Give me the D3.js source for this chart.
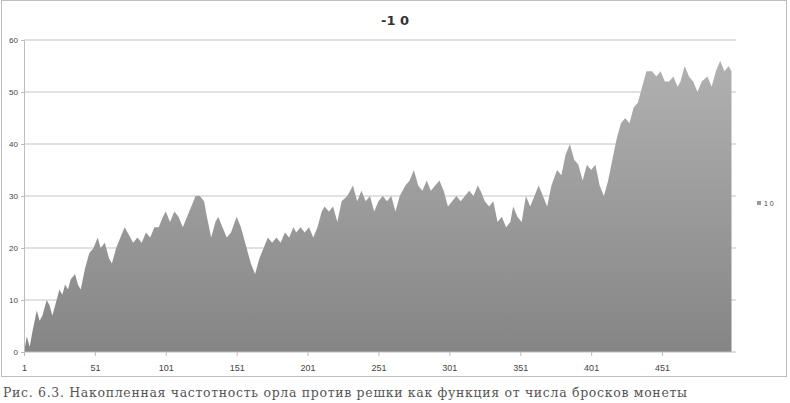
<!DOCTYPE html>
<html><head><meta charset="utf-8">
<script src="https://cdn.jsdelivr.net/npm/d3@7"></script>
<style>body{margin:0;background:#fff}</style>
</head><body>
<svg id="c" width="790" height="403"></svg>
<script>
// toss number and cumulative (heads - tails)
const tosses = [1,3,5,7,10,12,14,17,19,21,23,26,28,30,32,34,37,39,41,44,47,50,53,55,58,61,63,66,69,72,76,78,81,84,87,90,93,96,99,101,104,107,110,113,116,119,122,125,128,130,133,136,138,141,144,147,151,154,157,161,164,167,170,173,176,179,182,185,188,191,193,196,199,202,205,208,211,213,216,219,222,225,229,233,236,239,242,245,248,251,254,257,260,263,266,270,273,276,279,282,285,288,291,294,297,300,303,306,309,312,315,318,321,323,326,329,332,335,338,341,344,346,349,352,355,358,361,364,367,370,373,377,380,383,386,389,392,395,398,401,404,407,410,413,416,419,422,425,428,431,434,437,440,444,447,450,453,456,459,462,464,467,470,473,476,479,483,486,489,492,495,498,500];
const values = [0,3,1,4,8,6,7,10,9,7,9,12,11,13,12,14,15,13,12,16,19,20,22,20,21,18,17,20,22,24,22,21,22,21,23,22,24,24,26,27,25,27,26,24,26,28,30,30,29,26,22,25,26,24,22,23,26,24,21,17,15,18,20,22,21,22,21,23,22,24,23,24,23,24,22,24,27,28,27,28,25,29,30,32,29,31,29,30,27,29,30,29,30,27,30,32,33,35,32,31,33,31,32,33,31,28,29,30,29,30,31,30,32,31,29,28,29,25,26,24,25,28,26,25,30,28,30,32,30,28,32,35,34,38,40,37,36,33,36,35,36,32,30,33,37,41,44,45,44,47,48,51,54,54,53,54,52,52,53,51,52,55,53,52,50,52,53,51,54,56,54,55,54,55,52];
const yTicks = [0,10,20,30,40,50,60];
const xTicks = [1,51,101,151,201,251,301,351,401,451];

const svg = d3.select('#c');
const m = {left:24, right:736, top:40, bottom:352};
const x = d3.scaleLinear().domain([1,500]).range([m.left, 731.5]);
const y = d3.scaleLinear().domain([0,60]).range([m.bottom, m.top]);

svg.append('rect').attr('x',1.5).attr('y',0.5).attr('width',785).attr('height',376)
  .attr('fill','#fff').attr('stroke','#bdbdbd');

const grad = svg.append('defs').append('linearGradient').attr('id','g')
  .attr('x1',0).attr('y1',0).attr('x2',0).attr('y2',1)
  .attr('gradientUnits','userSpaceOnUse')
  .attr('x1',0).attr('y1',m.top).attr('x2',0).attr('y2',m.bottom);
grad.append('stop').attr('offset','0%').attr('stop-color','#b4b4b4');
grad.append('stop').attr('offset','100%').attr('stop-color','#858585');

svg.append('g').selectAll('line').data(yTicks.slice(1)).enter().append('line')
  .attr('x1',m.left).attr('x2',m.right).attr('y1',d=>y(d)).attr('y2',d=>y(d))
  .attr('stroke','#c4c4c4').attr('stroke-width',1.2);

const data = tosses.map((t,i)=>({t, v:values[i]}));
svg.append('path').datum(data)
  .attr('d', d3.area().x(d=>x(d.t)).y0(y(0)).y1(d=>y(d.v)))
  .attr('fill','url(#g)');

const yAxis = svg.append('g').attr('transform',`translate(${m.left},0)`)
  .call(d3.axisLeft(y).tickValues(yTicks).tickSize(3));
yAxis.select('.domain').attr('stroke','#bdbdbd');
yAxis.selectAll('line').attr('stroke','#bdbdbd');
yAxis.selectAll('text').attr('font-family','Liberation Sans Narrow, Liberation Sans').attr('font-size',8).attr('fill','#444');

const xAxis = svg.append('g').attr('transform',`translate(0,${m.bottom})`)
  .call(d3.axisBottom(x).tickValues(xTicks).tickSize(4).tickSizeOuter(0));
xAxis.select('.domain').attr('stroke','#bdbdbd').attr('d',`M${m.left},0H${m.right}`);
xAxis.selectAll('line').attr('stroke','#bdbdbd');
xAxis.selectAll('text').attr('dy','1.3em').attr('font-family','Liberation Sans Narrow, Liberation Sans').attr('font-size',9).attr('fill','#444');

svg.append('text').attr('x',395).attr('y',25).attr('text-anchor','middle')
  .attr('font-family','DejaVu Sans').attr('font-weight','bold').attr('font-size',13)
  .attr('fill','#333').text('-1 0');

svg.append('rect').attr('x',757).attr('y',201).attr('width',4).attr('height',4).attr('fill','#999');
svg.append('text').attr('x',764).attr('y',206).attr('font-family','Liberation Sans').attr('font-size',7)
  .attr('fill','#444').text('1 0');

svg.append('text').attr('x',3).attr('y',397).attr('font-family','DejaVu Serif')
  .attr('font-size',12.5).attr('fill','#555').attr('textLength',684)
  .text('Рис. 6.3. Накопленная частотность орла против решки как функция от числа бросков монеты');
</script>
</body></html>
